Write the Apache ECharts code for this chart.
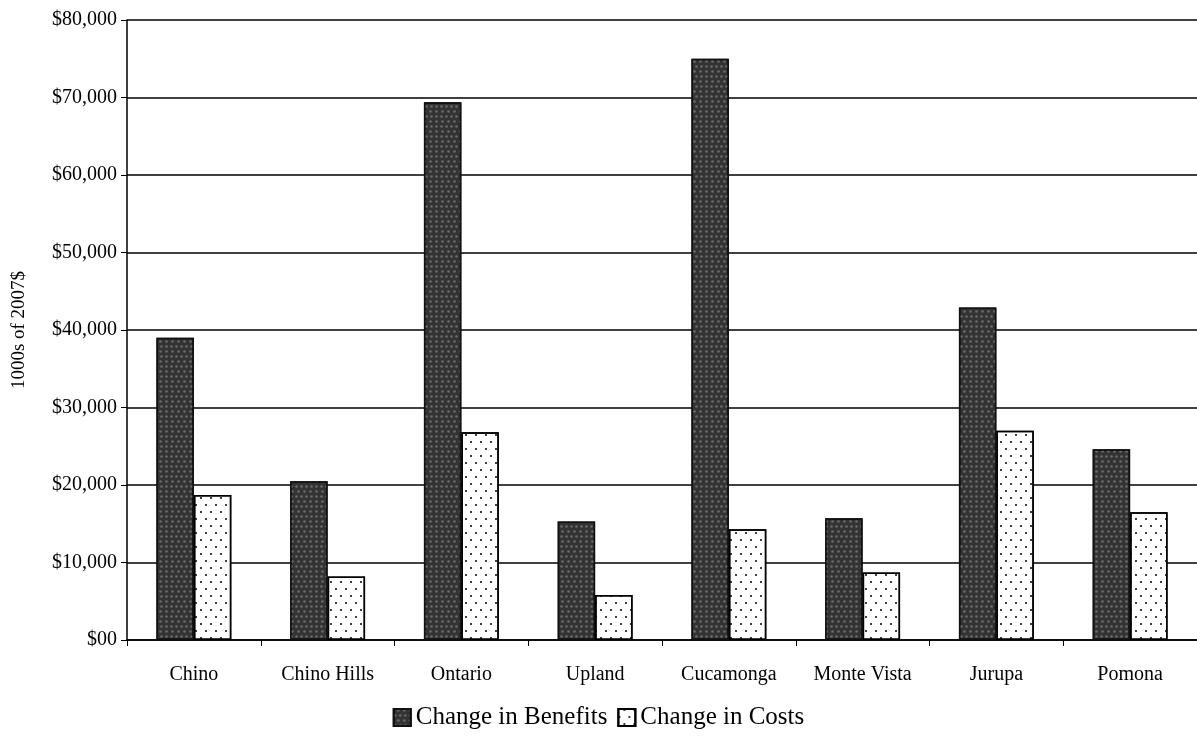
<!DOCTYPE html>
<html>
<head>
<meta charset="utf-8">
<script src="https://cdn.jsdelivr.net/npm/echarts@6/dist/echarts.min.js"></script>
<style>
  html, body { margin: 0; padding: 0; background: #fff; }
  #chart { width: 1197px; height: 743px; }
</style>
</head>
<body>
<div id="chart"></div>
<script>
const categories = ['Chino', 'Chino Hills', 'Ontario', 'Upland', 'Cucamonga', 'Monte Vista', 'Jurupa', 'Pomona']
const benefits = [39000, 20500, 69400, 15300, 75000, 15700, 42900, 24600]
const costs = [18700, 8200, 26800, 5800, 14300, 8700, 27000, 16500]
const yTickLabels = ['$00', '$10,000', '$20,000', '$30,000', '$40,000', '$50,000', '$60,000', '$70,000', '$80,000']

const serif = '"Liberation Serif", "DejaVu Serif", serif'

const chart = echarts.init(document.getElementById('chart'))
chart.setOption({
  backgroundColor: '#fff',
  animation: false,
  grid: { left: 127, right: 0, top: 20, bottom: 103, outerBoundsMode: 'none' },
  legend: {
    bottom: 8,
    left: 'center',
    icon: 'rect',
    itemWidth: 17,
    itemHeight: 17,
    itemGap: 10,
    textStyle: { fontFamily: serif, fontSize: 25, color: '#000' },
    data: ['Change in Benefits', 'Change in Costs']
  },
  xAxis: {
    type: 'category',
    data: categories,
    axisLine: { lineStyle: { color: '#000', width: 1.5 } },
    axisTick: { show: true, length: 6, lineStyle: { color: '#000' } },
    axisLabel: { fontFamily: serif, fontSize: 20, color: '#000', margin: 25 }
  },
  yAxis: {
    type: 'value',
    min: 0,
    max: 80000,
    interval: 10000,
    name: '1000s of 2007$',
    nameLocation: 'middle',
    nameGap: 98,
    nameTextStyle: { fontFamily: serif, fontSize: 19, color: '#000' },
    axisLine: { show: true, lineStyle: { color: '#000', width: 1.5 } },
    axisTick: { show: true, length: 6, lineStyle: { color: '#000' } },
    axisLabel: {
      fontFamily: serif, fontSize: 20, color: '#000', margin: 10,
      formatter: v => yTickLabels[Math.round(v / 10000)]
    },
    splitLine: { lineStyle: { color: '#000', width: 1.5 } }
  },
  series: [
    {
      name: 'Change in Benefits',
      type: 'bar',
      data: benefits,
      barGap: '0%',
      barCategoryGap: '44%',
      itemStyle: {
        color: '#333',
        borderColor: '#111',
        borderWidth: 1.5,
        decal: {
          symbol: 'circle',
          symbolSize: 0.9,
          color: '#6a6a6a',
          dashArrayX: [[3, 2], [0, 2.5, 3, 0]],
          dashArrayY: [3, 1.5],
          rotation: 0
        }
      }
    },
    {
      name: 'Change in Costs',
      type: 'bar',
      data: costs,
      itemStyle: {
        color: '#fff',
        borderColor: '#000',
        borderWidth: 1.5,
        decal: {
          symbol: 'circle',
          symbolSize: 1,
          color: '#000',
          dashArrayX: [[2, 8], [0, 5, 2, 3]],
          dashArrayY: [2, 5],
          rotation: 0
        }
      }
    }
  ]
})
</script>
</body>
</html>
